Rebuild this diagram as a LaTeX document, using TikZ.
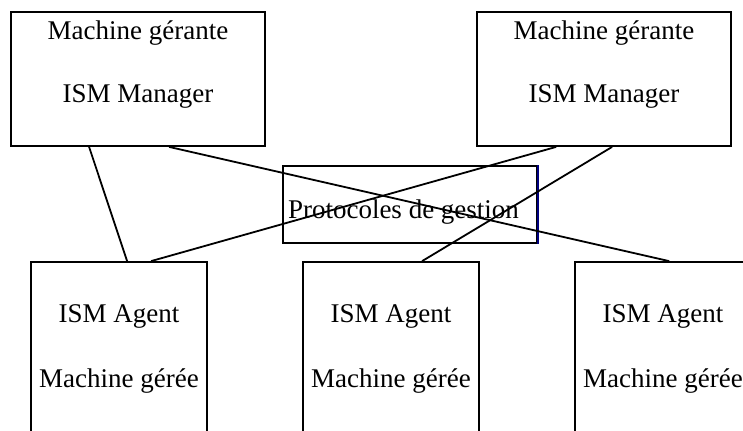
\documentclass[tikz,border=0pt]{standalone}
\usepackage{fontspec}
\setmainfont{Liberation Serif}
\usetikzlibrary{calc}

\begin{document}
\begin{tikzpicture}[x = 0.5pt, y = -0.5pt, line width = 0.9pt,
	mgr/.style = {draw, inner sep = 0pt, minimum width = 127pt, minimum height = 67pt},
	agt/.style = {draw, inner sep = 0pt, minimum width = 88pt, minimum height = 95pt},
	txt/.style = {font = \fontsize{13.5}{16}\selectfont, inner sep = 0pt, anchor = base}]
\useasboundingbox (0, 0) rectangle (743, 430);
\clip (0, 0) rectangle (743, 430);

	\node [mgr] (mgrA) at (138, 79) {};
	\node [txt] (mgrAt) at ($(mgrA.north) + (0, 28)$) {Machine gérante};
	\node [txt] (mgrAb) at ($(mgrA.north) + (0, 91)$) {ISM Manager};

	\node [mgr] (mgrB) at (604, 79) {};
	\node [txt] (mgrBt) at ($(mgrB.north) + (0, 28)$) {Machine gérante};
	\node [txt] (mgrBb) at ($(mgrB.north) + (0, 91)$) {ISM Manager};

	\node [draw, inner sep = 0pt, minimum width = 127pt, minimum height = 38.5pt] (proto) at (410, 204.5) {};
	\draw [blue!50!black] (proto.north east) -- (proto.south east);
	\node [txt, anchor = base west] (protot) at ($(proto.west) + (5, 13.5)$) {Protocoles de gestion};

	\foreach \name/\cx in {agA/119, agB/391, agC/663} {
		\node [agt] (\name) at (\cx, 357) {};
		\node [txt] (\name t) at ($(\name.north) + (0, 61)$) {ISM Agent};
		\node [txt] (\name b) at ($(\name.north) + (0, 126)$) {Machine gérée};
	}

	\draw ($(mgrA.south west) + (79, 0)$) -- ($(agA.north west) + (97, 0)$);
	\draw ($(mgrA.south west) + (159, 0)$) -- ($(agC.north west) + (95, 0)$);
	\draw ($(mgrB.south west) + (80, 0)$) -- ($(agA.north west) + (121, 0)$);
	\draw ($(mgrB.south west) + (136, 0)$) -- ($(agB.north west) + (120, 0)$);

\end{tikzpicture}
\end{document}
